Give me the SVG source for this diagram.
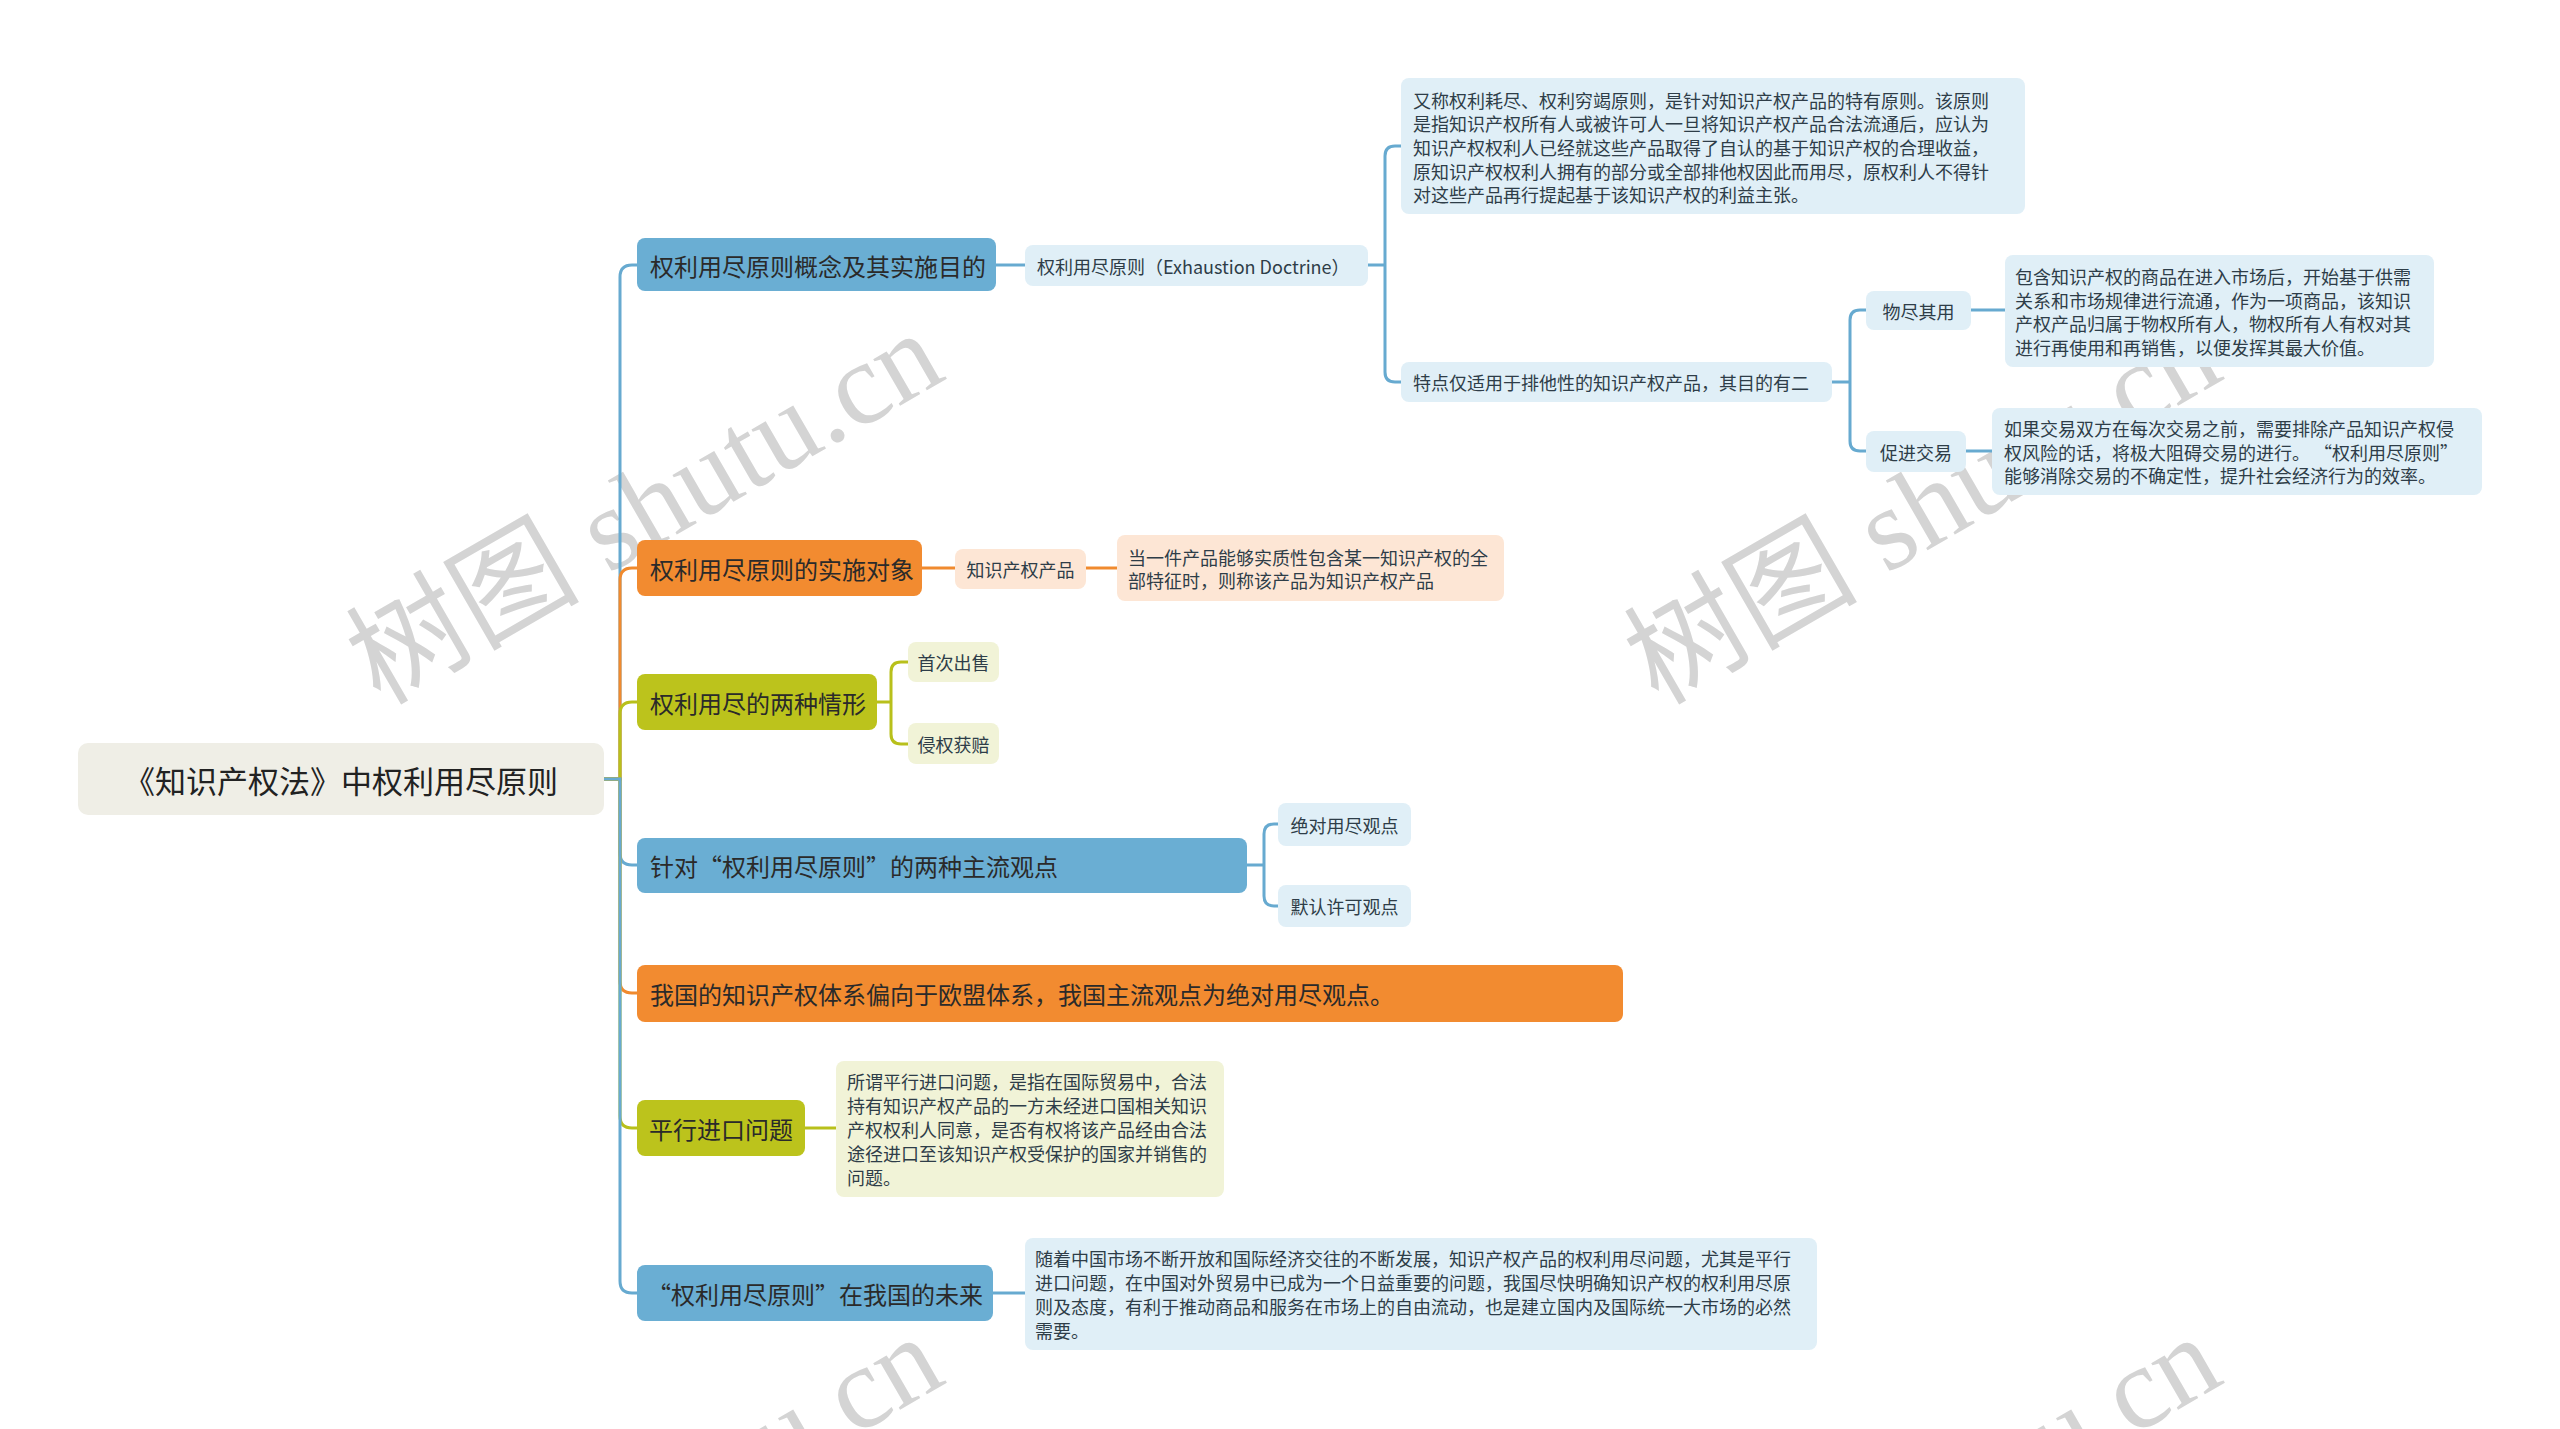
<svg xmlns="http://www.w3.org/2000/svg" width="2560" height="1429" viewBox="0 0 2560 1429">
<style>
.wm{font-family:"Liberation Serif","Noto Sans CJK SC",serif;font-size:117px;fill:#d4d4d4;}
.t{font-family:"Noto Sans CJK SC","Noto Sans",sans-serif;dominant-baseline:central;}
.root{font-size:31px;fill:#222;text-anchor:middle;}
.b{font-size:24px;fill:#2a2a2a;}
.s{font-size:18px;fill:#2e3d48;}
.c{text-anchor:middle;}
.cb{fill:none;stroke:#67aad0;stroke-width:3;}
.co{fill:none;stroke:#f08a2e;stroke-width:3;}
.cg{fill:none;stroke:#b8c01b;stroke-width:3;}
.nb{fill:#6aaed3;}
.no{fill:#f28b30;}
.ng{fill:#bcc31c;}
.lb{fill:#e0eff7;}
.lo{fill:#fde6d5;}
.lg{fill:#f1f3d7;}
</style>
<rect width="2560" height="1429" fill="#ffffff"/>
<g id="watermarks">
<text class="wm" transform="translate(380,706) rotate(-30)">树图 shutu.cn</text>
<text class="wm" transform="translate(1658,706) rotate(-30)">树图 shutu.cn</text>
<text class="wm" transform="translate(380,1710) rotate(-30)">树图 shutu.cn</text>
<text class="wm" transform="translate(1658,1710) rotate(-30)">树图 shutu.cn</text>
</g>
<g id="connectors">
<path class="cb" d="M604,779 H620 V277 Q620,265 632,265 H637"/>
<path class="co" d="M604,779 H620 V580 Q620,568 632,568 H637"/>
<path class="cg" d="M604,779 H620 V714 Q620,702 632,702 H637"/>
<path class="cb" d="M604,779 H620 V853 Q620,865 632,865 H637"/>
<path class="co" d="M604,779 H620 V981 Q620,993 632,993 H637"/>
<path class="cg" d="M604,779 H620 V1116 Q620,1128 632,1128 H637"/>
<path class="cb" d="M604,779 H620 V1281 Q620,1293 632,1293 H637"/>
<path class="cb" d="M996,265 H1025"/>
<path class="cb" d="M1368,265 H1385 M1401,146 H1395 Q1385,146 1385,156 V372 Q1385,382 1395,382 H1401"/>
<path class="cb" d="M1832,382 H1850 M1866,310 H1860 Q1850,310 1850,320 V441 Q1850,451 1860,451 H1866"/>
<path class="cb" d="M1971,310 H2005"/>
<path class="cb" d="M1966,451 H1992"/>
<path class="co" d="M922,568 H955"/>
<path class="co" d="M1086,568 H1117"/>
<path class="cg" d="M877,702 H891 M908,662 H901 Q891,662 891,672 V734 Q891,744 901,744 H908"/>
<path class="cb" d="M1247,865 H1264 M1278,824 H1274 Q1264,824 1264,834 V896 Q1264,906 1274,906 H1278"/>
<path class="cg" d="M805,1128 H836"/>
<path class="cb" d="M993,1293 H1025"/>
</g>
<g id="root">
<rect x="78" y="743" width="526" height="72" rx="10" fill="#efeee6"/>
<text class="t root" x="341" y="779">《知识产权法》中权利用尽原则</text>
</g>
<g id="n1">
<rect class="nb" x="637" y="238" width="359" height="53" rx="8"/>
<text class="t b" x="650" y="265">权利用尽原则概念及其实施目的</text>
</g>
<g id="n1a">
<rect class="lb" x="1025" y="245" width="343" height="41" rx="8"/>
<text class="t s" x="1037" y="265.5">权利用尽原则（Exhaustion Doctrine）</text>
</g>
<g id="n1a1">
<rect class="lb" x="1401" y="78" width="624" height="136" rx="8"/>
<text class="t s" x="1413" y="99.6">又称权利耗尽、权利穷竭原则，是针对知识产权产品的特有原则。该原则</text>
<text class="t s" x="1413" y="123.3">是指知识产权所有人或被许可人一旦将知识产权产品合法流通后，应认为</text>
<text class="t s" x="1413" y="147">知识产权权利人已经就这些产品取得了自认的基于知识产权的合理收益，</text>
<text class="t s" x="1413" y="170.7">原知识产权权利人拥有的部分或全部排他权因此而用尽，原权利人不得针</text>
<text class="t s" x="1413" y="194.4">对这些产品再行提起基于该知识产权的利益主张。</text>
</g>
<g id="n1a2">
<rect class="lb" x="1401" y="362" width="431" height="40" rx="8"/>
<text class="t s" x="1413" y="382">特点仅适用于排他性的知识产权产品，其目的有二</text>
</g>
<g id="n1a2a">
<rect class="lb" x="1866" y="291" width="105" height="39" rx="8"/>
<text class="t s c" x="1918.5" y="310.5">物尽其用</text>
</g>
<g id="n1a2a1">
<rect class="lb" x="2005" y="255" width="429" height="112" rx="8"/>
<text class="t s" x="2015" y="276">包含知识产权的商品在进入市场后，开始基于供需</text>
<text class="t s" x="2015" y="299.5">关系和市场规律进行流通，作为一项商品，该知识</text>
<text class="t s" x="2015" y="323">产权产品归属于物权所有人，物权所有人有权对其</text>
<text class="t s" x="2015" y="346.5">进行再使用和再销售，以便发挥其最大价值。</text>
</g>
<g id="n1a2b">
<rect class="lb" x="1866" y="431" width="100" height="41" rx="8"/>
<text class="t s c" x="1916" y="451.5">促进交易</text>
</g>
<g id="n1a2b1">
<rect class="lb" x="1992" y="408" width="490" height="87" rx="8"/>
<text class="t s" x="2004" y="428">如果交易双方在每次交易之前，需要排除产品知识产权侵</text>
<text class="t s" x="2004" y="451.5">权风险的话，将极大阻碍交易的进行。 “权利用尽原则”</text>
<text class="t s" x="2004" y="475">能够消除交易的不确定性，提升社会经济行为的效率。</text>
</g>
<g id="n2">
<rect class="no" x="637" y="540" width="285" height="56" rx="8"/>
<text class="t b" x="650" y="568">权利用尽原则的实施对象</text>
</g>
<g id="n2a">
<rect class="lo" x="955" y="549" width="131" height="40" rx="8"/>
<text class="t s c" x="1020.5" y="569">知识产权产品</text>
</g>
<g id="n2a1">
<rect class="lo" x="1117" y="535" width="387" height="66" rx="8"/>
<text class="t s" x="1128" y="557">当一件产品能够实质性包含某一知识产权的全</text>
<text class="t s" x="1128" y="580">部特征时，则称该产品为知识产权产品</text>
</g>
<g id="n3">
<rect class="ng" x="637" y="674" width="240" height="56" rx="8"/>
<text class="t b" x="650" y="702">权利用尽的两种情形</text>
</g>
<g id="n3a">
<rect class="lg" x="908" y="642" width="91" height="40" rx="8"/>
<text class="t s c" x="953.5" y="662">首次出售</text>
</g>
<g id="n3b">
<rect class="lg" x="908" y="723" width="91" height="41" rx="8"/>
<text class="t s c" x="953.5" y="744">侵权获赔</text>
</g>
<g id="n4">
<rect class="nb" x="637" y="838" width="610" height="55" rx="8"/>
<text class="t b" x="650" y="865.5">针对“权利用尽原则”的两种主流观点</text>
</g>
<g id="n4a">
<rect class="lb" x="1278" y="803" width="133" height="43" rx="8"/>
<text class="t s c" x="1344.5" y="824.5">绝对用尽观点</text>
</g>
<g id="n4b">
<rect class="lb" x="1278" y="885" width="133" height="42" rx="8"/>
<text class="t s c" x="1344.5" y="906">默认许可观点</text>
</g>
<g id="n5">
<rect class="no" x="637" y="965" width="986" height="57" rx="8"/>
<text class="t b" x="650" y="993.5">我国的知识产权体系偏向于欧盟体系，我国主流观点为绝对用尽观点。</text>
</g>
<g id="n6">
<rect class="ng" x="637" y="1100" width="168" height="56" rx="8"/>
<text class="t b c" x="721" y="1128">平行进口问题</text>
</g>
<g id="n6a">
<rect class="lg" x="836" y="1061" width="388" height="136" rx="8"/>
<text class="t s" x="847" y="1081">所谓平行进口问题，是指在国际贸易中，合法</text>
<text class="t s" x="847" y="1105">持有知识产权产品的一方未经进口国相关知识</text>
<text class="t s" x="847" y="1129">产权权利人同意，是否有权将该产品经由合法</text>
<text class="t s" x="847" y="1153">途径进口至该知识产权受保护的国家并销售的</text>
<text class="t s" x="847" y="1177">问题。</text>
</g>
<g id="n7">
<rect class="nb" x="637" y="1265" width="356" height="56" rx="8"/>
<text class="t b c" x="815" y="1293">“权利用尽原则”在我国的未来</text>
</g>
<g id="n7a">
<rect class="lb" x="1025" y="1238" width="792" height="112" rx="8"/>
<text class="t s" x="1035" y="1258">随着中国市场不断开放和国际经济交往的不断发展，知识产权产品的权利用尽问题，尤其是平行</text>
<text class="t s" x="1035" y="1282">进口问题，在中国对外贸易中已成为一个日益重要的问题，我国尽快明确知识产权的权利用尽原</text>
<text class="t s" x="1035" y="1306">则及态度，有利于推动商品和服务在市场上的自由流动，也是建立国内及国际统一大市场的必然</text>
<text class="t s" x="1035" y="1330">需要。</text>
</g>
</svg>
